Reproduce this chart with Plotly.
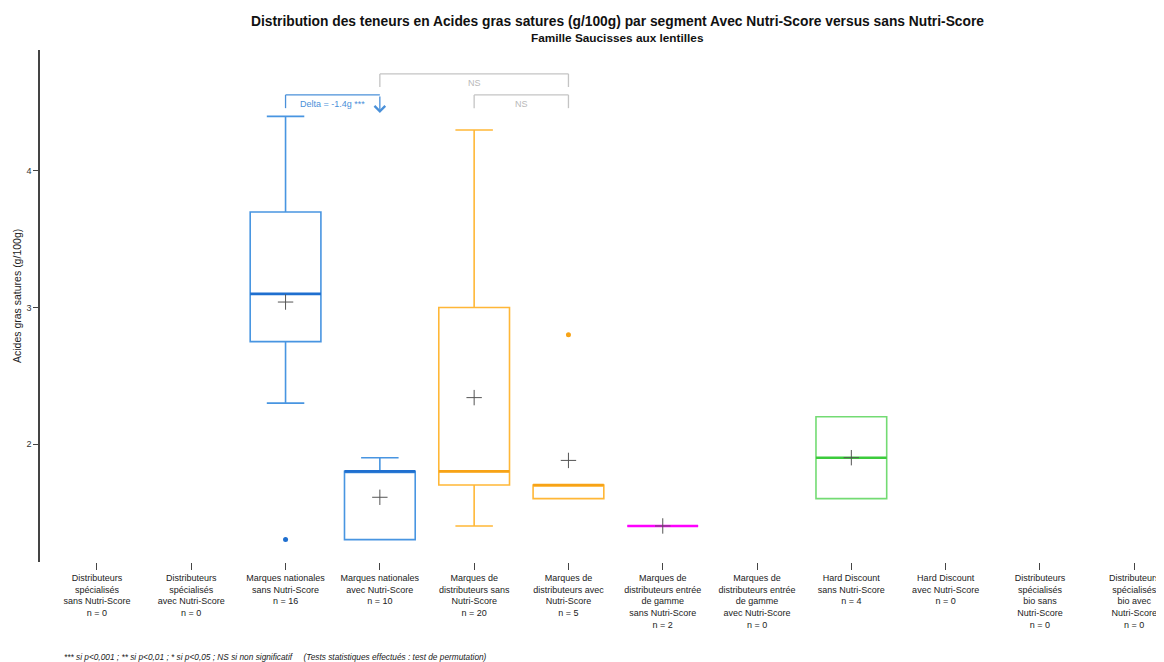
import plotly.graph_objects as go

# ---------------- data ----------------
categories = [
    "Distributeurs<br>spécialisés<br>sans Nutri-Score<br>n = 0",
    "Distributeurs<br>spécialisés<br>avec Nutri-Score<br>n = 0",
    "Marques nationales<br>sans Nutri-Score<br>n = 16",
    "Marques nationales<br>avec Nutri-Score<br>n = 10",
    "Marques de<br>distributeurs sans<br>Nutri-Score<br>n = 20",
    "Marques de<br>distributeurs avec<br>Nutri-Score<br>n = 5",
    "Marques de<br>distributeurs entrée<br>de gamme<br>sans Nutri-Score<br>n = 2",
    "Marques de<br>distributeurs entrée<br>de gamme<br>avec Nutri-Score<br>n = 0",
    "Hard Discount<br>sans Nutri-Score<br>n = 4",
    "Hard Discount<br>avec Nutri-Score<br>n = 0",
    "Distributeurs<br>spécialisés<br>bio sans<br>Nutri-Score<br>n = 0",
    "Distributeurs<br>spécialisés<br>bio avec<br>Nutri-Score<br>n = 0",
]

# boxes present (index in categories)
box_index = [2, 3, 4, 5, 6, 8]
lower_whisker = [2.3, 1.3, 1.4, 1.6, 1.4, 1.6]
q1_vals = [2.75, 1.3, 1.7, 1.6, 1.4, 1.6]
median_vals = [3.1, 1.8, 1.8, 1.7, 1.4, 1.9]
q3_vals = [3.7, 1.8, 3.0, 1.7, 1.4, 2.2]
upper_whisker = [4.4, 1.9, 4.3, 1.7, 1.4, 2.2]
mean_vals = [3.04, 1.61, 2.34, 1.88, 1.4, 1.9]
outliers = [[1.3], [], [], [2.8], [], []]

box_line_colors = ["rgba(40,130,220,0.85)", "rgba(40,130,220,0.85)",
                   "rgba(255,170,20,0.85)", "rgba(255,170,20,0.85)",
                   "rgba(255,0,255,1)", "rgba(80,210,80,0.8)"]
median_colors = ["#1f6fcf", "#1f6fcf", "#f7a316", "#f7a316", "#ff00ff", "#3ccb3c"]

y_title = "Acides gras satures (g/100g)"
title = "Distribution des teneurs en Acides gras satures (g/100g) par segment Avec Nutri-Score versus sans Nutri-Score"
subtitle = "Famille Saucisses aux lentilles"
footer = ("*** si p<0,001 ; ** si p<0,01 ; * si p<0,05 ; NS si non significatif"
          "&nbsp;&nbsp;&nbsp;&nbsp;&nbsp;(Tests statistiques effectués : test de permutation)")

FONT = "Liberation Sans, Arial, sans-serif"
BOX_W = 0.75

# plot-area geometry; the page adds an 8 px body margin, so compensate
W, H = 1164, 662
O = 8
LEFT, RIGHT, TOP, BOTTOM = 40, 1158, 50, 562   # target plot area on screen
ML, MT = LEFT - O, TOP - O
MR = W - (RIGHT - O)
MB = H - (BOTTOM - O)
PW, PH = RIGHT - LEFT, BOTTOM - TOP
def px(xp):
    return (xp - LEFT) / PW
def py(yp):
    return (BOTTOM - yp) / PH

fig = go.Figure()

for k, pos in enumerate(box_index):
    fig.add_trace(go.Box(
        x=[pos], q1=[q1_vals[k]], median=[median_vals[k]], q3=[q3_vals[k]],
        lowerfence=[lower_whisker[k]], upperfence=[upper_whisker[k]],
        width=BOX_W, whiskerwidth=0.53, boxpoints=False,
        line=dict(color=box_line_colors[k], width=1.6),
        fillcolor="rgba(0,0,0,0)", showlegend=False, hoverinfo="skip",
    ))
    # thicker median
    fig.add_trace(go.Scatter(
        x=[pos - BOX_W / 2, pos + BOX_W / 2], y=[median_vals[k], median_vals[k]],
        mode="lines", line=dict(color=median_colors[k], width=2.6),
        showlegend=False, hoverinfo="skip",
    ))
    if outliers[k]:
        fig.add_trace(go.Scatter(
            x=[pos] * len(outliers[k]), y=outliers[k], mode="markers",
            marker=dict(color=median_colors[k], size=5),
            showlegend=False, hoverinfo="skip",
        ))

# means
fig.add_trace(go.Scatter(
    x=box_index, y=mean_vals, mode="markers",
    marker=dict(symbol="cross-thin", size=11, line=dict(color="#555555", width=1)),
    showlegend=False, hoverinfo="skip",
))

# ---------------- brackets ----------------
shapes = []
def bracket(x0, x1, ytop, yl, yr, color):
    shapes.append(dict(type="line", xref="x", yref="y", x0=x0, x1=x1, y0=ytop, y1=ytop,
                       line=dict(color=color, width=1.3)))
    shapes.append(dict(type="line", xref="x", yref="y", x0=x0, x1=x0, y0=ytop, y1=yl,
                       line=dict(color=color, width=1.3)))
    if yr is not None:
        shapes.append(dict(type="line", xref="x", yref="y", x0=x1, x1=x1, y0=ytop, y1=yr,
                           line=dict(color=color, width=1.3)))

blue = "#4a90d9"
gray = "#c4c4c4"
bracket(2, 3, 4.557, 4.46, None, blue)
bracket(3, 5, 4.711, 4.615, 4.615, gray)
bracket(4, 5, 4.557, 4.46, 4.46, gray)

annotations = [
    dict(x=3, y=4.425, ax=3, ay=4.557, xref="x", yref="y", axref="x", ayref="y",
         showarrow=True, arrowhead=4, arrowsize=1.6, arrowwidth=1.3, arrowcolor=blue, text=""),
    dict(x=2.5, y=4.49, xref="x", yref="y", text="Delta = -1.4g ***", showarrow=False,
         font=dict(family=FONT, size=9, color=blue)),
    dict(x=4, y=4.645, xref="x", yref="y", text="NS", showarrow=False,
         font=dict(family=FONT, size=9, color="#b8b8b8")),
    dict(x=4.5, y=4.49, xref="x", yref="y", text="NS", showarrow=False,
         font=dict(family=FONT, size=9, color="#b8b8b8")),
    dict(x=px(618), y=py(21), xref="paper", yref="paper", text="<b>" + title + "</b>",
         showarrow=False, xanchor="center", yanchor="middle",
         font=dict(family=FONT, size=13.8, color="#111111")),
    dict(x=px(617), y=py(38), xref="paper", yref="paper", text="<b>" + subtitle + "</b>",
         showarrow=False, xanchor="center", yanchor="middle",
         font=dict(family=FONT, size=11.8, color="#111111")),
    dict(x=px(62), y=py(657), xref="paper", yref="paper", text="<i>" + footer + "</i>",
         showarrow=False, xanchor="left", yanchor="middle",
         font=dict(family=FONT, size=8.3, color="#222222")),
    dict(x=px(17), y=py(296), xref="paper", yref="paper", text=y_title, textangle=-90,
         showarrow=False, xanchor="center", yanchor="middle",
         font=dict(family=FONT, size=10.5, color="#222222")),
]

fig.update_layout(
    width=W, height=H,
    margin=dict(l=ML, r=MR, t=MT, b=MB, autoexpand=False),
    plot_bgcolor="white", paper_bgcolor="white",
    font=dict(family=FONT, size=10, color="#222222"),
    shapes=shapes, annotations=annotations,
    xaxis=dict(range=[-0.604, 11.252], tickmode="array", tickvals=list(range(len(categories))),
               ticktext=categories, showline=False, showgrid=False, zeroline=False,
               ticks="outside", ticklen=7, tickcolor="#444444", tickwidth=1, automargin=False,
               tickfont=dict(family=FONT, size=9, color="#222222"), tickangle=0),
    yaxis=dict(range=[1.136, 4.886], tickvals=[2, 3, 4], showline=True, linecolor="#444444",
               linewidth=1.5, showgrid=False, zeroline=False, ticks="outside", ticklen=5,
               tickcolor="#444444", tickfont=dict(family=FONT, size=9, color="#333333"),
               automargin=False),
)

fig.write_html("out.html")
